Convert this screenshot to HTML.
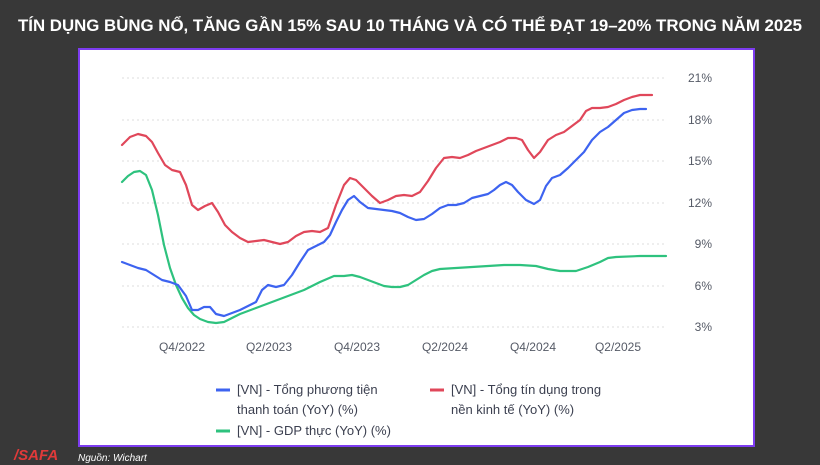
<!DOCTYPE html>
<html><head><meta charset="utf-8"><style>
html,body{margin:0;padding:0;width:820px;height:465px;overflow:hidden;background:#383838;font-family:"Liberation Sans","DejaVu Sans",sans-serif;}
</style></head><body>
<svg width="820" height="465" xmlns="http://www.w3.org/2000/svg">
<rect width="820" height="465" fill="#383838"/>
<text x="410" y="31" text-anchor="middle" fill="#fff" font-size="17" font-weight="bold" font-family="Liberation Sans Narrow, Liberation Sans, sans-serif" textLength="784" lengthAdjust="spacingAndGlyphs">TÍN DỤNG BÙNG NỔ, TĂNG GẦN 15% SAU 10 THÁNG VÀ CÓ THỂ ĐẠT 19–20% TRONG NĂM 2025</text>
<rect x="79" y="49" width="675" height="397" fill="#fff" stroke="#7d3cf0" stroke-width="2"/>
<g stroke="#dcdcdc" stroke-dasharray="2,3" stroke-width="1">
<line x1="122" x2="665" y1="78" y2="78"/><line x1="122" x2="665" y1="120" y2="120"/><line x1="122" x2="665" y1="161" y2="161"/><line x1="122" x2="665" y1="203" y2="203"/><line x1="122" x2="665" y1="244" y2="244"/><line x1="122" x2="665" y1="286" y2="286"/><line x1="122" x2="665" y1="327" y2="327"/>
</g>
<g fill="#555a66" font-size="12" text-anchor="end">
<text x="712" y="82">21%</text><text x="712" y="124">18%</text><text x="712" y="165">15%</text><text x="712" y="207">12%</text><text x="712" y="248">9%</text><text x="712" y="290">6%</text><text x="712" y="331">3%</text>
</g>
<g fill="#555a66" font-size="12" text-anchor="middle">
<text x="182" y="351">Q4/2022</text><text x="269" y="351">Q2/2023</text><text x="357" y="351">Q4/2023</text><text x="445" y="351">Q2/2024</text><text x="533" y="351">Q4/2024</text><text x="618" y="351">Q2/2025</text>
</g>
<g fill="none" stroke-width="2.2" stroke-linejoin="round" stroke-linecap="round">
<polyline stroke="#2ec27e" points="122,182 128,176 134,172 140,171 146,175 152,190 158,215 164,245 170,268 176,285 182,298 188,308 194,315 200,319 208,322 216,323 224,322 232,318 240,314 256,308 272,302 288,296 304,290 320,282 334,276 344,276 352,275 360,277 368,280 376,283 384,286 392,287 400,287 408,285 416,280 424,275 432,271 440,269 456,268 472,267 488,266 504,265 520,265 536,266 548,269 560,271 576,271 588,267 600,262 608,258 616,257 640,256 666,256"/>
<polyline stroke="#e0475a" points="122,145 130,137 138,134 146,136 152,142 158,153 165,165 172,170 180,172 186,185 192,205 198,210 205,206 212,203 218,212 225,225 232,232 240,238 248,242 256,241 264,240 272,242 280,244 288,242 296,236 304,232 312,231 320,232 328,228 336,205 344,185 350,178 356,180 364,188 372,196 380,203 388,200 396,196 404,195 412,196 420,192 428,181 436,168 444,158 452,157 460,158 468,155 476,151 484,148 492,145 500,142 508,138 516,138 522,140 528,150 534,158 540,152 548,140 556,135 564,132 572,126 580,120 586,111 592,108 600,108 608,107 616,104 624,100 632,97 640,95 648,95 652,95"/>
<polyline stroke="#3d63f0" points="122,262 130,265 138,268 146,270 154,275 162,280 170,282 178,285 186,296 192,310 198,310 204,307 210,307 216,314 224,316 232,313 240,310 248,306 256,302 262,290 268,285 276,287 284,285 292,275 300,262 308,250 316,246 324,242 330,235 336,222 342,210 348,200 354,196 360,202 368,208 376,209 384,210 392,211 400,213 408,217 416,220 424,219 432,214 440,208 448,205 456,205 464,203 472,198 480,196 488,194 494,190 500,185 506,182 512,185 518,192 526,200 534,204 540,200 546,186 552,178 560,175 568,168 576,160 584,152 592,140 600,132 608,127 616,120 624,113 632,110 640,109 646,109"/>
</g>
<g font-size="13" fill="#3c4050">
<line x1="216" x2="230" y1="390" y2="390" stroke="#3d63f0" stroke-width="3"/>
<text x="237" y="394">[VN] - Tổng phương tiện</text>
<text x="237" y="414">thanh toán (YoY) (%)</text>
<line x1="430" x2="444" y1="390" y2="390" stroke="#e0475a" stroke-width="3"/>
<text x="451" y="394">[VN] - Tổng tín dụng trong</text>
<text x="451" y="414">nền kinh tế (YoY) (%)</text>
<line x1="216" x2="230" y1="431" y2="431" stroke="#2ec27e" stroke-width="3"/>
<text x="237" y="435">[VN] - GDP thực (YoY) (%)</text>
</g>
<text x="14" y="460" fill="#e03a3a" font-size="15" font-weight="bold" font-style="italic">/SAFA</text>
<text x="78" y="461" fill="#fff" font-size="10" font-style="italic">Nguồn: Wichart</text>
</svg>
</body></html>
